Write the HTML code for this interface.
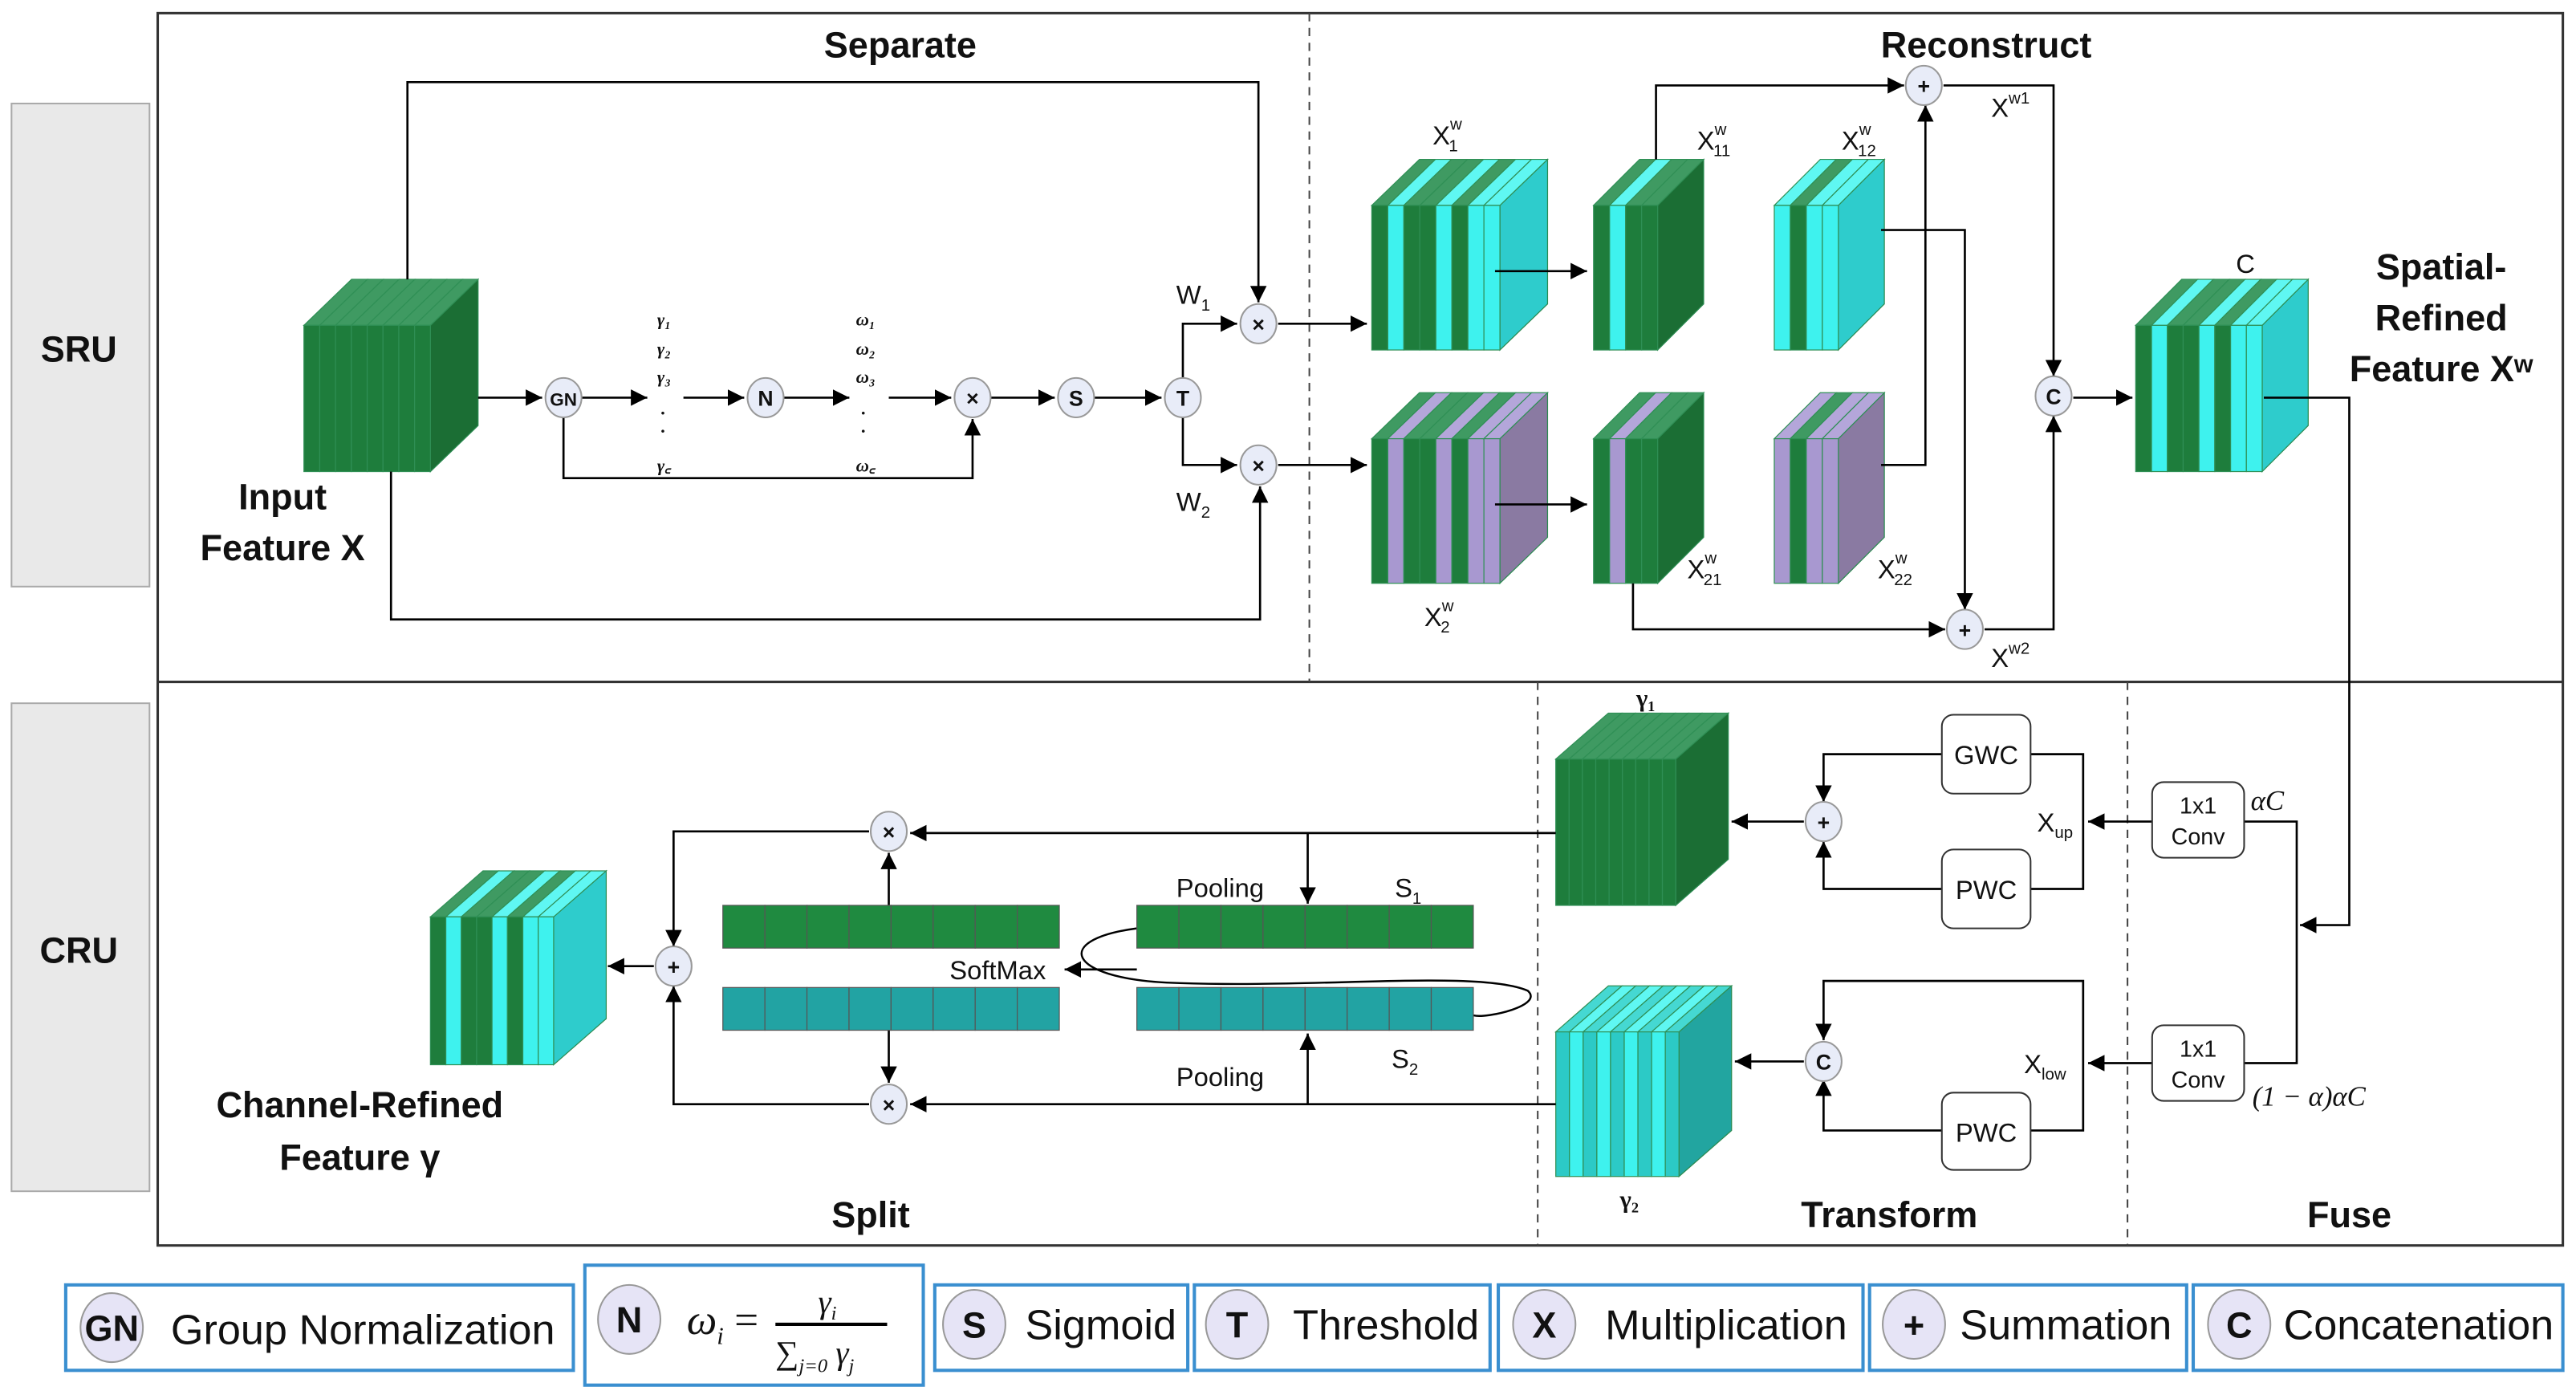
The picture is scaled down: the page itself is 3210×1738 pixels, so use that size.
<!DOCTYPE html>
<html><head><meta charset="utf-8"><style>
html,body{margin:0;padding:0;background:#fff;}
svg{display:block;}
text{font-family:"Liberation Sans",Arial,sans-serif;fill:#111;}
.b{font-weight:bold;font-size:22px;}
.l{font-size:16px;}
.s{font-size:10px;}
.c{font-weight:bold;font-size:13px;text-anchor:middle;}
.lg{font-size:25.5px;}
.lc{font-weight:bold;font-size:22px;text-anchor:middle;}
.m{font-family:"Liberation Serif",serif;font-style:italic;font-size:11px;font-weight:bold;}
</style></head><body>
<svg id="s" width="3210" height="1738" viewBox="0 0 1568 849" preserveAspectRatio="none" xmlns="http://www.w3.org/2000/svg">
<defs>
<marker id="a" markerUnits="userSpaceOnUse" markerWidth="12" markerHeight="12" refX="10" refY="5" orient="auto"><path d="M0,0 L10,5 L0,10 z" fill="#000"/></marker>
</defs>
<rect x="96" y="8" width="1464" height="750" fill="none" stroke="#333" stroke-width="1.5"/>
<line x1="96" y1="415" x2="1560" y2="415" stroke="#333" stroke-width="1.5"/>
<line x1="797" y1="8" x2="797" y2="415" stroke="#444" stroke-dasharray="5,4"/>
<line x1="936" y1="415" x2="936" y2="758" stroke="#444" stroke-dasharray="5,4"/>
<line x1="1295" y1="415" x2="1295" y2="758" stroke="#444" stroke-dasharray="5,4"/>
<rect x="7" y="63" width="84" height="294" fill="#e9e9e9" stroke="#aaa"/>
<rect x="7" y="428" width="84" height="297" fill="#e9e9e9" stroke="#aaa"/>
<text class="b" x="48" y="220" text-anchor="middle">SRU</text>
<text class="b" x="48" y="586" text-anchor="middle">CRU</text>
<text class="b" x="548" y="35" text-anchor="middle">Separate</text>
<text class="b" x="1209" y="35" text-anchor="middle">Reconstruct</text>
<text class="b" x="530" y="747" text-anchor="middle">Split</text>
<text class="b" x="1150" y="747" text-anchor="middle">Transform</text>
<text class="b" x="1430" y="747" text-anchor="middle">Fuse</text>
<g id="blocks"></g>
<g id="lines" fill="none" stroke="#000" stroke-width="1.3">
<polyline points="248,170 248,50 766,50 766,184" marker-end="url(#a)"/>
<polyline points="238,287 238,377 767,377 767,296" marker-end="url(#a)"/>
<line x1="291" y1="242" x2="330" y2="242" marker-end="url(#a)"/>
<line x1="354" y1="242" x2="394" y2="242" marker-end="url(#a)"/>
<line x1="416" y1="242" x2="453" y2="242" marker-end="url(#a)"/>
<line x1="477" y1="242" x2="517" y2="242" marker-end="url(#a)"/>
<line x1="541" y1="242" x2="579" y2="242" marker-end="url(#a)"/>
<line x1="603" y1="242" x2="642" y2="242" marker-end="url(#a)"/>
<line x1="666" y1="242" x2="707" y2="242" marker-end="url(#a)"/>
<polyline points="343,253 343,291 592,291 592,255" marker-end="url(#a)"/>
<polyline points="720,230 720,197 753,197" marker-end="url(#a)"/>
<polyline points="720,253 720,283 753,283" marker-end="url(#a)"/>
<line x1="778" y1="197" x2="832" y2="197" marker-end="url(#a)"/>
<line x1="778" y1="283" x2="832" y2="283" marker-end="url(#a)"/>
<line x1="910" y1="165" x2="966" y2="165" marker-end="url(#a)"/>
<line x1="910" y1="307" x2="966" y2="307" marker-end="url(#a)"/>
<polyline points="1008,97 1008,52 1159,52" marker-end="url(#a)"/>
<polyline points="1145,283 1172,283 1172,64" marker-end="url(#a)"/>
<polyline points="1145,140 1196,140 1196,371" marker-end="url(#a)"/>
<polyline points="994,355 994,383 1184,383" marker-end="url(#a)"/>
<polyline points="1183,52 1250,52 1250,229" marker-end="url(#a)"/>
<polyline points="1208,383 1250,383 1250,253" marker-end="url(#a)"/>
<line x1="1262" y1="242" x2="1298" y2="242" marker-end="url(#a)"/>
<polyline points="1378,242 1430,242 1430,563 1400,563" marker-end="url(#a)"/>
<polyline points="1366,500 1398,500 1398,647 1366,647"/>
<line x1="1310" y1="500" x2="1271" y2="500" marker-end="url(#a)"/>
<line x1="1310" y1="647" x2="1271" y2="647" marker-end="url(#a)"/>
<polyline points="1236,459 1268,459 1268,541 1236,541"/>
<polyline points="1182,459 1110,459 1110,488" marker-end="url(#a)"/>
<polyline points="1182,541 1110,541 1110,512" marker-end="url(#a)"/>
<line x1="1098" y1="500" x2="1054" y2="500" marker-end="url(#a)"/>
<polyline points="1236,688 1268,688 1268,597 1110,597 1110,633" marker-end="url(#a)"/>
<polyline points="1182,688 1110,688 1110,657" marker-end="url(#a)"/>
<line x1="1098" y1="646" x2="1056" y2="646" marker-end="url(#a)"/>
<line x1="947" y1="507" x2="554" y2="507" marker-end="url(#a)"/>
<line x1="796" y1="507" x2="796" y2="550" marker-end="url(#a)"/>
<polyline points="529,506 410,506 410,576" marker-end="url(#a)"/>
<line x1="541" y1="551" x2="541" y2="519" marker-end="url(#a)"/>
<line x1="541" y1="627" x2="541" y2="659" marker-end="url(#a)"/>
<line x1="947" y1="672" x2="554" y2="672" marker-end="url(#a)"/>
<line x1="796" y1="672" x2="796" y2="629" marker-end="url(#a)"/>
<polyline points="529,672 410,672 410,600" marker-end="url(#a)"/>
<line x1="398" y1="588" x2="370" y2="588" marker-end="url(#a)"/>
<line x1="692" y1="590" x2="648" y2="590" marker-end="url(#a)"/>
<path d="M692,565 C640,572 650,595 710,598 C800,602 900,590 930,603 C940,612 905,620 897,618" stroke-width="1.2"/>
</g>
<g id="bars"></g>
<g fill="#e8ecf8" stroke="#999" stroke-width="1">
<ellipse cx="343" cy="242" rx="11" ry="12"/><ellipse cx="466" cy="242" rx="11" ry="12"/>
<ellipse cx="592" cy="242" rx="11" ry="12"/><ellipse cx="655" cy="242" rx="11" ry="12"/>
<ellipse cx="720" cy="242" rx="11" ry="12"/><ellipse cx="766" cy="197" rx="11" ry="12"/>
<ellipse cx="766" cy="283" rx="11" ry="12"/><ellipse cx="1171" cy="52" rx="11" ry="12"/>
<ellipse cx="1196" cy="383" rx="11" ry="12"/><ellipse cx="1250" cy="241" rx="11" ry="12"/>
<ellipse cx="1110" cy="500" rx="11" ry="12"/><ellipse cx="1110" cy="646" rx="11" ry="12"/>
<ellipse cx="541" cy="506" rx="11" ry="12"/><ellipse cx="541" cy="672" rx="11" ry="12"/>
<ellipse cx="410" cy="588" rx="11" ry="12"/>
</g>
<text class="c" x="343" y="247" style="font-size:11px">GN</text><text class="c" x="466" y="247">N</text>
<text class="c" x="592" y="247">×</text><text class="c" x="655" y="247">S</text>
<text class="c" x="720" y="247">T</text><text class="c" x="766" y="202">×</text>
<text class="c" x="766" y="288">×</text><text class="c" x="1171" y="57">+</text>
<text class="c" x="1196" y="388">+</text><text class="c" x="1250" y="246">C</text>
<text class="c" x="1110" y="505">+</text><text class="c" x="1110" y="651">C</text>
<text class="c" x="541" y="511">×</text><text class="c" x="541" y="677">×</text>
<text class="c" x="410" y="593">+</text>
<text class="m" x="400" y="198">γ₁</text><text class="m" x="400" y="216">γ₂</text><text class="m" x="400" y="233">γ₃</text>
<text class="m" x="402" y="255">·</text><text class="m" x="402" y="266">·</text><text class="m" x="400" y="287">γ꜀</text>
<text class="m" x="521" y="198">ω₁</text><text class="m" x="521" y="216">ω₂</text><text class="m" x="521" y="233">ω₃</text>
<text class="m" x="524" y="255">·</text><text class="m" x="524" y="266">·</text><text class="m" x="521" y="287">ω꜀</text>
<text class="b" x="172" y="310" text-anchor="middle">Input</text>
<text class="b" x="172" y="341" text-anchor="middle">Feature X</text>
<text class="l" x="716" y="185">W<tspan class="s" dy="4">1</tspan></text>
<text class="l" x="716" y="311">W<tspan class="s" dy="4">2</tspan></text>
<text class="l" x="872" y="88">X<tspan class="s" dy="-9">w</tspan><tspan class="s" dx="-8" dy="13">1</tspan></text>
<text class="l" x="1033" y="91">X<tspan class="s" dy="-9">w</tspan><tspan class="s" dx="-8" dy="13">11</tspan></text>
<text class="l" x="1121" y="91">X<tspan class="s" dy="-9">w</tspan><tspan class="s" dx="-8" dy="13">12</tspan></text>
<text class="l" x="1212" y="71">X<tspan class="s" dy="-8">w1</tspan></text>
<text class="l" x="867" y="381">X<tspan class="s" dy="-9">w</tspan><tspan class="s" dx="-8" dy="13">2</tspan></text>
<text class="l" x="1027" y="352">X<tspan class="s" dy="-9">w</tspan><tspan class="s" dx="-8" dy="13">21</tspan></text>
<text class="l" x="1143" y="352">X<tspan class="s" dy="-9">w</tspan><tspan class="s" dx="-8" dy="13">22</tspan></text>
<text class="l" x="1212" y="406">X<tspan class="s" dy="-8">w2</tspan></text>
<text class="l" x="1361" y="166">C</text>
<text class="b" x="1486" y="170" text-anchor="middle">Spatial-</text>
<text class="b" x="1486" y="201" text-anchor="middle">Refined</text>
<text class="b" x="1486" y="232" text-anchor="middle">Feature Xʷ</text>
<text class="b" x="219" y="680" text-anchor="middle">Channel-Refined</text>
<text class="b" x="219" y="712" text-anchor="middle">Feature γ</text>
<text style="font-family:'Liberation Serif',serif;font-weight:bold;font-size:15px" x="996" y="430">γ₁</text>
<text style="font-family:'Liberation Serif',serif;font-weight:bold;font-size:15px" x="986" y="735">γ₂</text>
<text class="l" x="716" y="546">Pooling</text><text class="l" x="716" y="661">Pooling</text>
<text class="l" x="849" y="546">S<tspan class="s" dy="4">1</tspan></text>
<text class="l" x="847" y="650">S<tspan class="s" dy="4">2</tspan></text>
<text class="l" x="578" y="596">SoftMax</text>
<text class="l" x="1240" y="506">X<tspan class="s" dy="4">up</tspan></text>
<text class="l" x="1232" y="653">X<tspan class="s" dy="4">low</tspan></text>
<g fill="#fff" stroke="#333" stroke-width="1">
<rect x="1182" y="435" width="54" height="48" rx="7"/><rect x="1182" y="517" width="54" height="48" rx="7"/>
<rect x="1182" y="665" width="54" height="47" rx="7"/>
<rect x="1310" y="476" width="56" height="46" rx="7"/><rect x="1310" y="624" width="56" height="46" rx="7"/>
</g>
<text class="l" x="1209" y="465" text-anchor="middle">GWC</text>
<text class="l" x="1209" y="547" text-anchor="middle">PWC</text>
<text class="l" x="1209" y="695" text-anchor="middle">PWC</text>
<text class="l" x="1338" y="495" text-anchor="middle" style="font-size:14px">1x1</text>
<text class="l" x="1338" y="514" text-anchor="middle" style="font-size:14px">Conv</text>
<text class="l" x="1338" y="643" text-anchor="middle" style="font-size:14px">1x1</text>
<text class="l" x="1338" y="662" text-anchor="middle" style="font-size:14px">Conv</text>
<text x="1370" y="493" style="font-family:'Liberation Serif',serif;font-style:italic;font-size:17px">αC</text>
<text x="1371" y="673" style="font-family:'Liberation Serif',serif;font-style:italic;font-size:17px">(1 − α)αC</text>
<g fill="#fff" stroke="#3a8fd0" stroke-width="2">
<rect x="40" y="782" width="309" height="52"/><rect x="356" y="770" width="206" height="73"/>
<rect x="569" y="782" width="154" height="52"/><rect x="727" y="782" width="180" height="52"/>
<rect x="912" y="782" width="222" height="52"/><rect x="1138" y="782" width="193" height="52"/>
<rect x="1335" y="782" width="225" height="52"/>
</g>
<g fill="#e6e4f6" stroke="#999" stroke-width="1">
<ellipse cx="68" cy="808" rx="19" ry="21"/><ellipse cx="383" cy="803" rx="19" ry="21"/>
<ellipse cx="593" cy="806" rx="19" ry="21"/><ellipse cx="753" cy="806" rx="19" ry="21"/>
<ellipse cx="940" cy="806" rx="19" ry="21"/><ellipse cx="1165" cy="806" rx="19" ry="21"/>
<ellipse cx="1363" cy="806" rx="19" ry="21"/>
</g>
<text class="lc" x="68" y="816">GN</text><text class="lc" x="383" y="811">N</text>
<text class="lc" x="593" y="814">S</text><text class="lc" x="753" y="814">T</text>
<text class="lc" x="940" y="814">X</text><text class="lc" x="1165" y="814">+</text>
<text class="lc" x="1363" y="814">C</text>
<text class="lg" x="104" y="818">Group Normalization</text>
<text class="lg" x="624" y="815">Sigmoid</text><text class="lg" x="787" y="815">Threshold</text>
<text class="lg" x="977" y="815">Multiplication</text><text class="lg" x="1193" y="815">Summation</text>
<text class="lg" x="1390" y="815">Concatenation</text>
<text x="418" y="812" style="font-family:'Liberation Serif',serif;font-style:italic;font-size:26px">ω<tspan style="font-size:15px" dy="6">i</tspan><tspan dy="-6" style="font-style:normal"> =</tspan></text>
<line x1="472" y1="806" x2="540" y2="806" stroke="#000" stroke-width="2"/>
<text x="498" y="799" style="font-family:'Liberation Serif',serif;font-style:italic;font-size:20px">γ<tspan style="font-size:12px" dy="4">i</tspan></text>
<text x="472" y="830" style="font-family:'Liberation Serif',serif;font-style:italic;font-size:20px">∑<tspan style="font-size:12px" dy="5">j=0</tspan><tspan dy="-5"> γ</tspan><tspan style="font-size:12px" dy="5">j</tspan></text>
</svg>
<script>
var NS="http://www.w3.org/2000/svg";
function el(p,t,a){var e=document.createElementNS(NS,t);for(var k in a)e.setAttribute(k,a[k]);p.appendChild(e);return e;}
var G='#1e7d3c',C='#3ef2ee',P='#a898d0',TQ='#2ccac6';
var top={};top[G]='#3f9a62';top[C]='#5ff7f2';top[P]='#b4a6da';top[TQ]='#45d8d2';
var B=document.getElementById('blocks');
function block(x,y,w,h,dx,dy,st,side){
  var n=st.length,sw=w/n;
  el(B,'polygon',{points:(x+w)+','+y+' '+(x+w+dx)+','+(y-dy)+' '+(x+w+dx)+','+(y+h-dy)+' '+(x+w)+','+(y+h),fill:side,stroke:'#2a8a50','stroke-width':0.6});
  for(var i=0;i<n;i++){var a=x+i*sw;
    el(B,'polygon',{points:a+','+y+' '+(a+dx)+','+(y-dy)+' '+(a+sw+dx)+','+(y-dy)+' '+(a+sw)+','+y,fill:top[st[i]],stroke:'#2f8f55','stroke-width':0.6});
    el(B,'rect',{x:a,y:y,width:sw,height:h,fill:st[i],stroke:'#2f8f55','stroke-width':0.6});}
}
block(185,198,77,89,29,28,[G,G,G,G,G,G,G,G],'#1b6e34');
block(835,125,78,88,29,28,[G,C,G,G,C,G,C,C],'#2ecccc');
block(835,267,78,88,29,28,[G,P,G,G,P,G,P,P],'#8a7aa2');
block(970,125,39,88,28,28,[G,C,G,G],'#1b6e34');
block(1080,125,39,88,28,28,[C,G,C,C],'#2ecccc');
block(970,267,39,88,28,28,[G,P,G,G],'#1b6e34');
block(1080,267,39,88,28,28,[P,G,P,P],'#8a7aa2');
block(1300,198,77,89,28,28,[G,C,G,G,C,G,C,C],'#2ecccc');
block(947,462,73,89,32,28,[G,G,G,G,G,G,G,G,G],'#1b6e34');
block(947,628,75,88,32,28,[TQ,C,TQ,C,TQ,C,TQ,C,TQ],'#22a5a0');
block(262,558,75,90,32,28,[G,C,G,G,C,G,C,C],'#2ecccc');
var R=document.getElementById('bars');
function bar(x,y,c){for(var i=0;i<8;i++)el(R,'rect',{x:x+i*25.6,y:y,width:25.6,height:26,fill:c,stroke:'#555','stroke-width':0.6});}
bar(440,551,'#1f8a40');bar(692,551,'#1f8a40');bar(440,601,'#22a3a3');bar(692,601,'#22a3a3');
</script>
</body></html>
